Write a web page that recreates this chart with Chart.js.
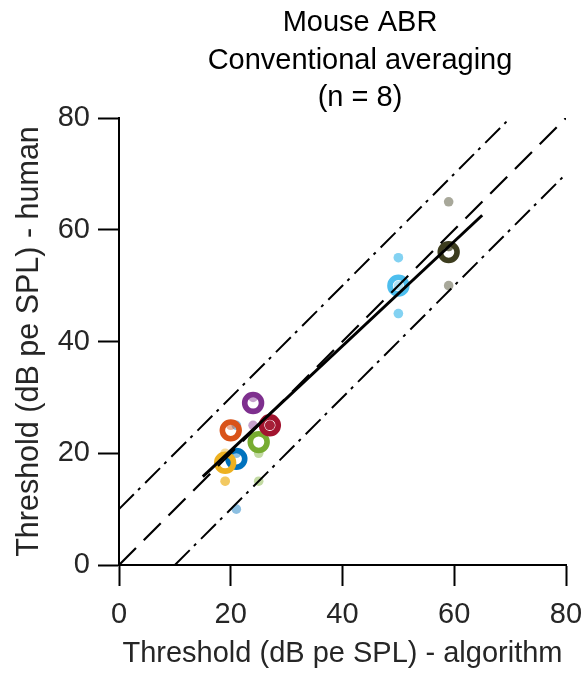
<!DOCTYPE html>
<html>
<head>
<meta charset="utf-8">
<script src="https://cdn.jsdelivr.net/npm/chart.js@4.4.1/dist/chart.umd.min.js"></script>
<style>
  body { margin: 0; background: #fff; }
  #wrap { width: 588px; height: 677px; }
</style>
</head>
<body>
<div id="wrap"><canvas id="abrChart" width="588" height="677"></canvas></div>
<script>
// Mean thresholds per group (hollow rings)
const meanAlgorithm = [21, 19, 20, 24, 25, 27, 50, 59];
const meanHuman = [19, 18.3, 24.1, 29, 22, 25, 50, 56];

// Individual animals (small translucent dots), group index into groupColors
const animalGroup = [0, 0, 0, 1, 1, 1, 2, 3, 3, 4, 4, 5, 5, 5, 5, 5, 6, 6, 6, 6, 6, 7, 7, 7, 7];
const animalAlgorithm = [21, 21, 21, 19, 19, 19, 20, 24, 24, 25, 25, 27, 27, 27, 27, 27, 50, 50, 50, 50, 50, 59, 59, 59, 59];
const animalHuman = [10, 20, 25, 15, 15, 20, 25, 30, 25, 20, 15, 25, 25, 25, 25, 25, 55, 55, 45, 45, 50, 65, 50, 57, 57];

// Reference lines: unity, +/-10 dB bounds and linear fit
const unityX = [0, 80], unityY = [0, 80];
const upperX = [0, 70], upperY = [10, 80];
const lowerX = [10, 80], lowerY = [0, 70];
const fitX = [15, 65], fitY = [15.8, 62.6];

const titleLines = ['Mouse ABR', 'Conventional averaging', '(n = 8)'];

const groupColors = ['#0072BD', '#EDB120', '#D95319', '#7E2F8E', '#77AC30', '#A2142F', '#4DBEEE', '#3D3D1F'];

function hexToRgba(hex, a) {
    const n = parseInt(hex.slice(1), 16);
    return `rgba(${(n >> 16) & 255}, ${(n >> 8) & 255}, ${n & 255}, ${a})`;
}

function toPoints(xs, ys) {
    return xs.map((x, i) => ({ x: x, y: ys[i] }));
}

function refLine(xs, ys, width, dash) {
    return {
        data: toPoints(xs, ys),
        showLine: true,
        borderColor: '#000',
        borderWidth: width,
        borderDash: dash,
        pointRadius: 0,
        order: 0
    };
}

const FONT = "'Liberation Sans', Arial, sans-serif";

// three-line title, centred over the right-hand part of the figure
const titlePlugin = {
    id: 'stackedTitle',
    afterDraw(chart) {
        const ctx = chart.ctx;
        ctx.save();
        ctx.fillStyle = '#000';
        ctx.font = `29px ${FONT}`;
        ctx.textAlign = 'center';
        ctx.textBaseline = 'alphabetic';
        titleLines.forEach((line, i) => ctx.fillText(line, 360, 31 + i * 37.5));
        ctx.restore();
    }
};

const axisGrid = {
    drawOnChartArea: false,
    drawTicks: true,
    tickLength: 21,
    tickWidth: 2,
    tickColor: '#000',
    color: '#000'
};

new Chart(document.getElementById('abrChart'), {
    type: 'scatter',
    data: {
        datasets: [
            refLine(fitX, fitY, 3, []),
            refLine(unityX, unityY, 2.2, [24, 11]),
            refLine(upperX, upperY, 2, [21, 6, 3, 7]),
            refLine(lowerX, lowerY, 2, [21, 6, 3, 7]),
            {
                data: toPoints(meanAlgorithm, meanHuman),
                pointRadius: 8.4,
                pointBorderWidth: 5.6,
                pointBorderColor: groupColors,
                pointBackgroundColor: 'rgba(0,0,0,0)',
                order: 1
            },
            {
                data: toPoints(animalAlgorithm, animalHuman),
                pointRadius: 4.8,
                pointBorderWidth: 0,
                pointBackgroundColor: animalGroup.map(g => hexToRgba(groupColors[g], 0.45)),
                order: 2
            }
        ]
    },
    options: {
        responsive: false,
        animation: false,
        layout: { padding: { top: 118, right: 22, left: 0, bottom: 0 } },
        plugins: {
            legend: { display: false },
            tooltip: { enabled: false }
        },
        scales: {
            x: {
                type: 'linear',
                min: 0,
                max: 80,
                ticks: { stepSize: 20, color: '#262626', font: { family: FONT, size: 29 }, padding: 12, maxRotation: 0 },
                grid: axisGrid,
                border: { color: '#000', width: 2 },
                title: {
                    display: true,
                    text: 'Threshold (dB pe SPL) - algorithm',
                    color: '#262626',
                    font: { family: FONT, size: 29, lineHeight: 1.2 },
                    padding: { top: 0, bottom: 6 }
                },
                afterFit(scale) {
                    scale.height = 112;
                    // let the end labels overhang instead of shrinking the plot
                    scale.paddingLeft = 0;
                    scale.paddingRight = 0;
                }
            },
            y: {
                type: 'linear',
                min: 0,
                max: 80,
                ticks: { stepSize: 20, color: '#262626', font: { family: FONT, size: 29 }, padding: 8 },
                grid: axisGrid,
                border: { color: '#000', width: 2 },
                title: {
                    display: true,
                    text: 'Threshold (dB pe SPL) - human',
                    color: '#262626',
                    font: { family: FONT, size: 30.5, lineHeight: 1.2 },
                    padding: { top: 11, bottom: 0 }
                },
                afterFit(scale) {
                    scale.width = 119;
                    scale.paddingTop = 0;
                    scale.paddingBottom = 0;
                }
            }
        }
    },
    plugins: [titlePlugin]
});
</script>
</body>
</html>
